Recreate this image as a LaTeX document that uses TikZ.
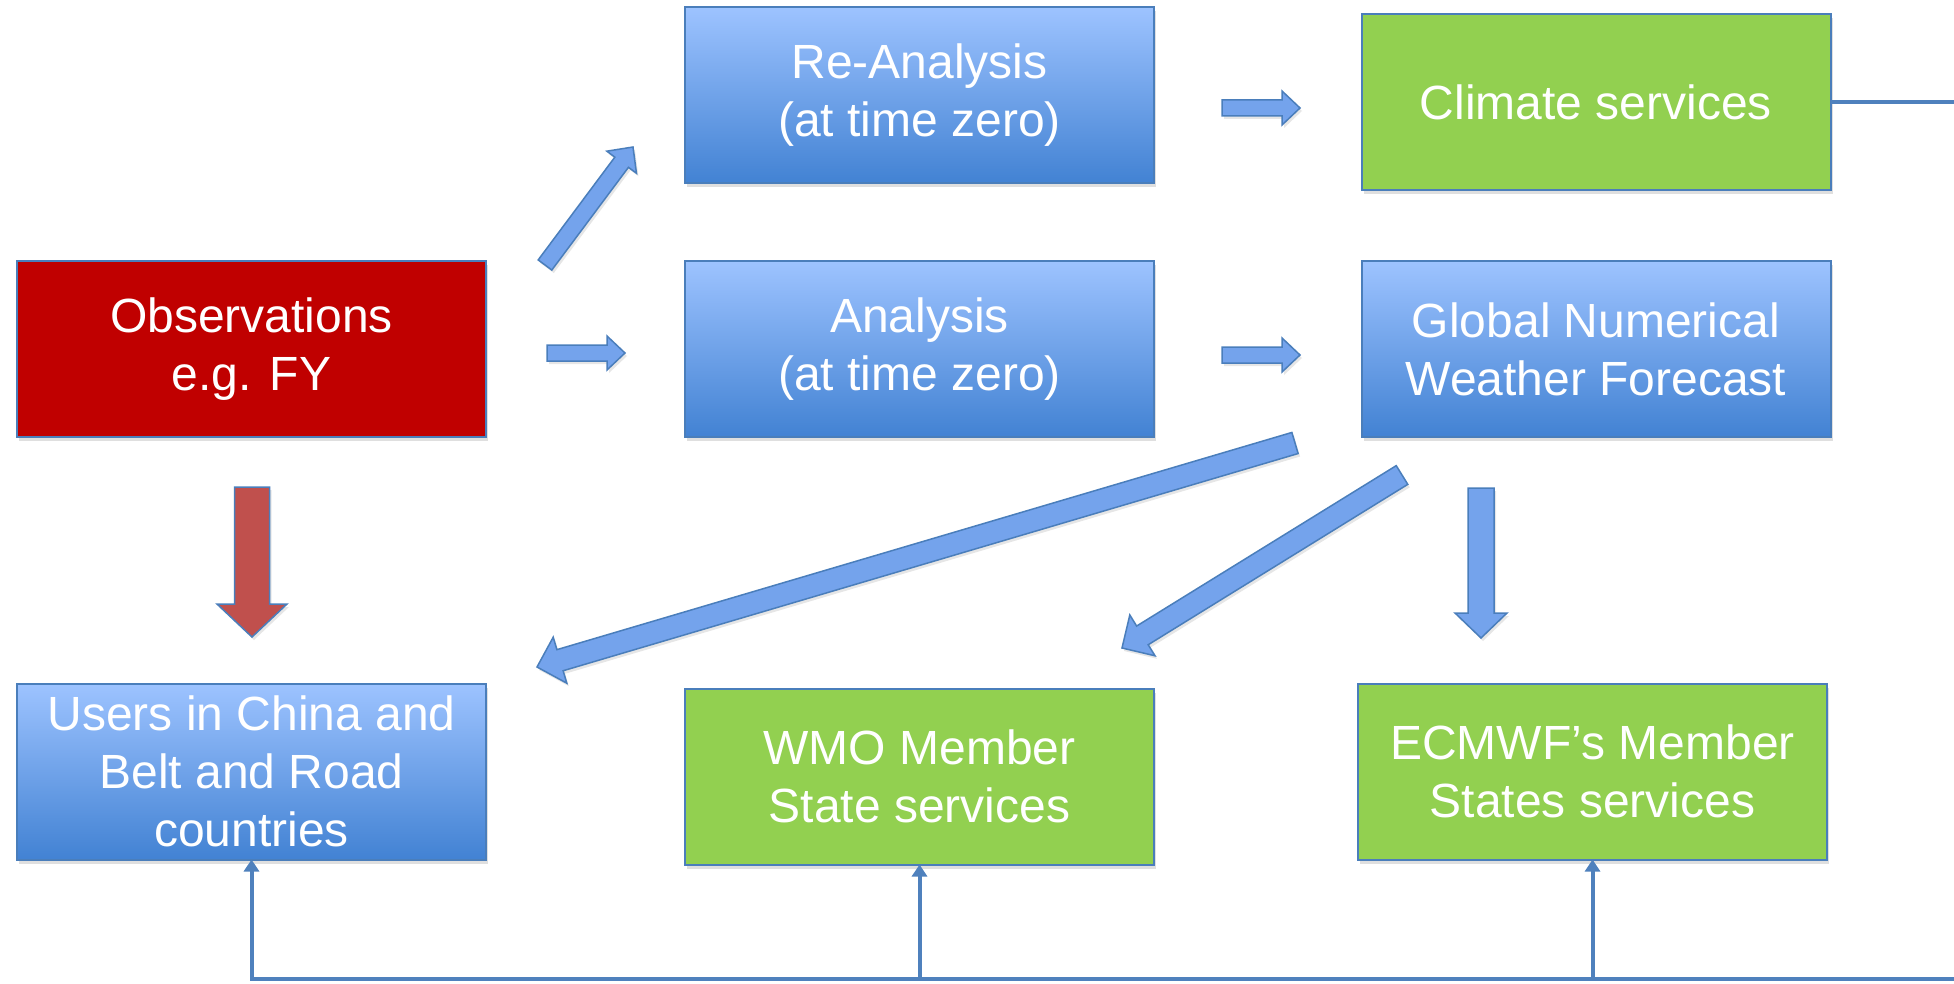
\documentclass[tikz,border=0pt]{standalone}
\usepackage{fontspec}
\setmainfont{Liberation Sans}
\usetikzlibrary{calc,shadows,arrows.meta}
\definecolor{boxtop}{HTML}{9DC3FF}
\definecolor{boxbottom}{HTML}{4282D3}
\definecolor{edgeblue}{HTML}{4A7EBB}
\definecolor{linkblue}{HTML}{4F81BD}
\definecolor{obsred}{HTML}{C00000}
\definecolor{servgreen}{HTML}{92D050}
\definecolor{arrowblue}{HTML}{74A3EC}
\definecolor{arrowred}{HTML}{C0504D}
% fat arrow: [style] tail, tip, half shaft, half head, head length
\newcommand{\fatarrow}[6][]{%
  \coordinate (neck) at ($(#3)!#6!(#2)$);
  \draw[blockarrow,#1] ($(#2)!#4!90:(#3)$) -- ($(neck)!#4!-90:(#2)$)
    -- ($(neck)!#5!-90:(#2)$) -- (#3) -- ($(neck)!#5!90:(#2)$)
    -- ($(neck)!#4!90:(#2)$) -- ($(#2)!#4!-90:(#3)$) -- cycle;}
\begin{document}
\begin{tikzpicture}[x=0.5pt,y=-0.5pt,
  box/.style={draw=edgeblue,line width=1pt,minimum width=234.5pt,minimum height=88pt,
    inner sep=0pt,outer sep=0pt,align=center,text=white,
    font=\fontsize{24pt}{29pt}\selectfont,
    drop shadow={shadow xshift=1pt,shadow yshift=-2pt,opacity=.25}},
  bluebox/.style={box,top color=boxtop,bottom color=boxbottom},
  redbox/.style={box,fill=obsred},
  greenbox/.style={box,fill=servgreen},
  blockarrow/.style={draw=edgeblue,line width=0.75pt,fill=arrowblue,line join=miter,
    drop shadow={shadow xshift=1pt,shadow yshift=-1.5pt,opacity=.2}},
  feedback/.style={draw=linkblue,line width=2pt,-{Triangle[length=6pt,width=7.5pt]}}]
  \useasboundingbox (0,0) rectangle (1954,984);

  % boxes
  \node[redbox] (obs) at (251.5,349) {Observations\\e.g. FY};
  \node[bluebox] (rean) at (919.5,95.5) {Re-Analysis\\(at time zero)};
  \node[bluebox] (ana) at (919.5,349) {Analysis\\(at time zero)};
  \node[greenbox] (clim) at (1596,102) {Climate services};
  \node[bluebox] (gnwf) at (1596,349) {Global Numerical\\Weather Forecast};
  \node[bluebox] (users) at (251.5,771.5) {Users in China and\\Belt and Road\\countries};
  \node[greenbox] (wmo) at (919.5,776.5) {WMO Member\\State services};
  \node[greenbox] (ecmwf) at (1592.5,771.5) {ECMWF’s Member\\States services};

  % fat arrow ends
  \coordinate (obs-rean-a) at (545,265);
  \coordinate (obs-rean-b) at (633,147);
  \coordinate (obs-ana-a) at (547,353);
  \coordinate (obs-ana-b) at (625,353);
  \coordinate (rean-clim-a) at (1222,108);
  \coordinate (rean-clim-b) at (1300,108);
  \coordinate (ana-gnwf-a) at (1222,355);
  \coordinate (ana-gnwf-b) at (1300,355);
  \coordinate (obs-users-a) at (252,487);
  \coordinate (obs-users-b) at (252,637);
  \coordinate (gnwf-ecmwf-a) at (1481,488);
  \coordinate (gnwf-ecmwf-b) at (1481,638);
  \coordinate (gnwf-wmo-a) at (1402,475);
  \coordinate (gnwf-wmo-b) at (1122,648);
  \coordinate (gnwf-users-a) at (1295,443);
  \coordinate (gnwf-users-b) at (537,667);

  \fatarrow{obs-rean-a}{obs-rean-b}{4.25pt}{9.25pt}{9.5pt}
  \fatarrow{obs-ana-a}{obs-ana-b}{4pt}{8.5pt}{9pt}
  \fatarrow{rean-clim-a}{rean-clim-b}{4pt}{8.5pt}{9pt}
  \fatarrow{ana-gnwf-a}{ana-gnwf-b}{4pt}{8.5pt}{9pt}
  \fatarrow[fill=arrowred]{obs-users-a}{obs-users-b}{8.75pt}{17.5pt}{16.5pt}
  \fatarrow{gnwf-ecmwf-a}{gnwf-ecmwf-b}{6.5pt}{13pt}{12.5pt}
  \fatarrow{gnwf-wmo-a}{gnwf-wmo-b}{5.5pt}{12pt}{12pt}
  \fatarrow{gnwf-users-a}{gnwf-users-b}{5.5pt}{12pt}{12pt}

  % feedback lines
  \coordinate (ne) at (1954,102);
  \coordinate (se) at (1954,979);
  \draw[draw=linkblue,line width=2pt] (clim.east) -- (ne);
  \draw[feedback] (se) -| (users.south);
  \draw[feedback] (wmo.south |- se) -- (wmo.south);
  \draw[feedback] (ecmwf.south |- se) -- (ecmwf.south);
\end{tikzpicture}
\end{document}
